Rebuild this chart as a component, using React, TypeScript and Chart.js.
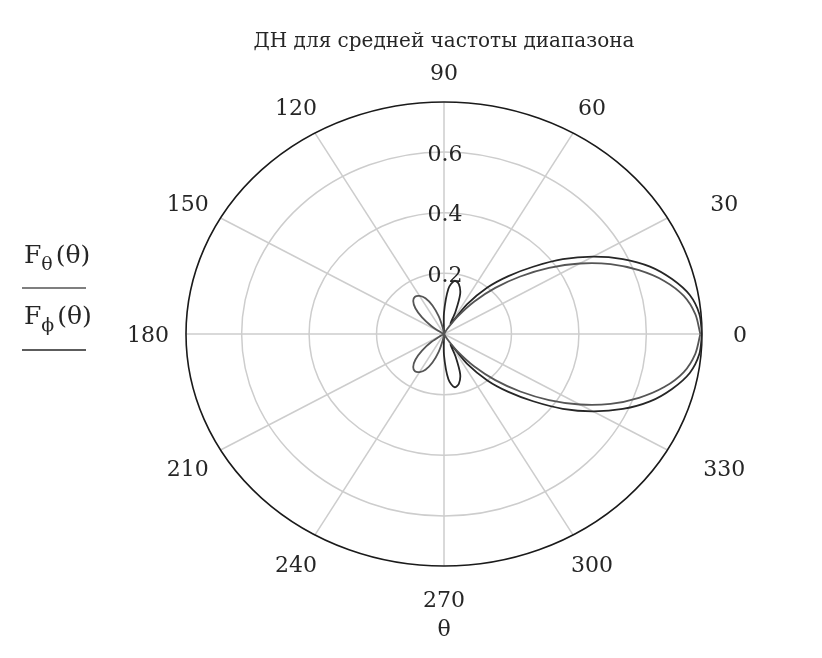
import React, { useEffect, useRef } from "react";
import { Chart, registerables } from "chart.js";

Chart.register(...registerables);

const TITLE = "ДН для средней частоты диапазона";
const ANGLE_LABELS = [0, 30, 60, 90, 120, 150, 180, 210, 240, 270, 300, 330];
const RADIAL_TICKS = [0.2, 0.4, 0.6];
const R_MAX = 0.765;
const AXIS_NAME = "θ";

const ANGLES = [
  0, 5, 10, 15, 20, 25, 30, 35, 40, 45, 50, 55, 60, 65, 70, 75, 80, 85, 90,
  95, 100, 105, 110, 115, 120, 125, 130, 135, 140, 145, 150, 155, 160, 165, 170, 175, 180,
  185, 190, 195, 200, 205, 210, 215, 220, 225, 230, 235, 240, 245, 250, 255, 260, 265,
  270, 275, 280, 285, 290, 295, 300, 305, 310, 315, 320, 325, 330, 335, 340, 345, 350, 355, 360,
];

// F_theta(theta): inner, narrower main lobe with back lobes near 125 / 235 deg
const F_THETA = [
  0.76, 0.748, 0.722, 0.676, 0.615, 0.545, 0.465, 0.38, 0.295, 0.215, 0.14, 0.07, 0.02, 0, 0, 0, 0, 0, 0,
  0, 0.02, 0.06, 0.10, 0.13, 0.145, 0.15, 0.142, 0.12, 0.085, 0.045, 0.01, 0, 0, 0, 0, 0, 0,
  0, 0, 0, 0, 0, 0.01, 0.045, 0.085, 0.12, 0.142, 0.15, 0.145, 0.13, 0.10, 0.06, 0.02, 0,
  0, 0, 0, 0, 0, 0, 0.02, 0.07, 0.14, 0.215, 0.295, 0.38, 0.465, 0.545, 0.615, 0.676, 0.722, 0.748, 0.76,
];

// F_phi(theta): outer, wider main lobe with side lobes near 80 / 280 deg
const F_PHI = [
  0.765, 0.76, 0.74, 0.70, 0.65, 0.585, 0.51, 0.43, 0.345, 0.27, 0.20, 0.12, 0.04, 0.08, 0.14, 0.17, 0.178, 0.15, 0.07,
  0, 0, 0, 0, 0, 0, 0, 0, 0, 0, 0, 0, 0, 0, 0, 0, 0, 0,
  0, 0, 0, 0, 0, 0, 0, 0, 0, 0, 0, 0, 0, 0, 0, 0, 0,
  0.07, 0.15, 0.178, 0.17, 0.14, 0.08, 0.04, 0.12, 0.20, 0.27, 0.345, 0.43, 0.51, 0.585, 0.65, 0.70, 0.74, 0.76, 0.765,
];

const COLOR_THETA = "#555555";
const COLOR_PHI = "#262626";
const GRID_COLOR = "#cdcdcd";
const TEXT_COLOR = "#262626";
const FONT = '"DejaVu Serif", "Liberation Serif", serif';

function toXY(r: number[]) {
  return r.map((v, i) => {
    const a = (ANGLES[i] * Math.PI) / 180;
    return { x: v * Math.cos(a), y: v * Math.sin(a) };
  });
}

const polarPlugin = {
  id: "polarGrid",
  beforeDatasetsDraw(chart: any) {
    const { ctx } = chart;
    const xs = chart.scales.x;
    const ys = chart.scales.y;
    const cx = xs.getPixelForValue(0);
    const cy = ys.getPixelForValue(0);
    const rx = (v: number) => xs.getPixelForValue(v) - cx;
    const ry = (v: number) => cy - ys.getPixelForValue(v);
    ctx.save();
    ctx.strokeStyle = GRID_COLOR;
    ctx.lineWidth = 1.5;
    for (const t of RADIAL_TICKS) {
      ctx.beginPath();
      ctx.ellipse(cx, cy, rx(t), ry(t), 0, 0, Math.PI * 2);
      ctx.stroke();
    }
    for (const a of ANGLE_LABELS) {
      const rad = (a * Math.PI) / 180;
      ctx.beginPath();
      ctx.moveTo(cx, cy);
      ctx.lineTo(xs.getPixelForValue(R_MAX * Math.cos(rad)), ys.getPixelForValue(R_MAX * Math.sin(rad)));
      ctx.stroke();
    }
    ctx.strokeStyle = "#1a1a1a";
    ctx.lineWidth = 1.6;
    ctx.beginPath();
    ctx.ellipse(cx, cy, rx(R_MAX), ry(R_MAX), 0, 0, Math.PI * 2);
    ctx.stroke();

    ctx.fillStyle = TEXT_COLOR;
    ctx.font = `22px ${FONT}`;
    ctx.textAlign = "center";
    ctx.textBaseline = "middle";
    for (const t of RADIAL_TICKS) {
      ctx.fillText(t.toFixed(1), cx + 1, ys.getPixelForValue(t) + 3);
    }
    ctx.restore();
  },
  afterDatasetsDraw(chart: any) {
    const { ctx } = chart;
    const xs = chart.scales.x;
    const ys = chart.scales.y;
    const cx = xs.getPixelForValue(0);
    const cy = ys.getPixelForValue(0);
    const rx = xs.getPixelForValue(R_MAX) - cx + 38;
    const ry = cy - ys.getPixelForValue(R_MAX) + 30;
    ctx.save();
    ctx.fillStyle = TEXT_COLOR;
    ctx.font = `22px ${FONT}`;
    ctx.textAlign = "center";
    ctx.textBaseline = "middle";
    for (const a of ANGLE_LABELS) {
      const rad = (a * Math.PI) / 180;
      const c = Math.cos(rad);
      const s = Math.sin(rad);
      // Mathcad pushes the right-hand diagonal labels further out
      const extra = c > 0.1 && Math.abs(s) > 0.1 && Math.abs(s) < 0.6 ? 24 : 0;
      ctx.fillText(String(a), cx + rx * c + extra, cy - ry * s + 2 + (s < -0.1 ? 3 : 0));
    }
    ctx.fillText(AXIS_NAME, cx, cy + ry + 34);

    // title
    ctx.font = `20px ${FONT}`;
    ctx.fillText(TITLE, cx, 42);

    // legend (Mathcad style trace names)
    const drawName = (sub: string, baseY: number, lineY: number, color: string) => {
      let xx = 24;
      ctx.textAlign = "left";
      ctx.textBaseline = "alphabetic";
      ctx.fillStyle = TEXT_COLOR;
      ctx.font = `25px ${FONT}`;
      ctx.fillText("F", xx, baseY);
      xx += ctx.measureText("F").width;
      ctx.font = `19px ${FONT}`;
      ctx.fillText(sub, xx, baseY + 7);
      xx += ctx.measureText(sub).width + 3;
      ctx.font = `25px ${FONT}`;
      ctx.fillText("(θ)", xx, baseY);
      ctx.strokeStyle = color;
      ctx.lineWidth = 1.6;
      ctx.beginPath();
      ctx.moveTo(22, lineY);
      ctx.lineTo(86, lineY);
      ctx.stroke();
    };
    drawName("θ", 263, 288, COLOR_THETA);
    drawName("ϕ", 324, 350, COLOR_PHI);
    ctx.restore();
  },
};

export default function App() {
  const ref = useRef<HTMLCanvasElement | null>(null);
  useEffect(() => {
    if (!ref.current) return;
    const chart = new Chart(ref.current, {
      type: "scatter",
      data: {
        datasets: [
          {
            label: "Fθ(θ)",
            data: toXY(F_THETA),
            showLine: true,
            borderColor: COLOR_THETA,
            borderWidth: 1.8,
            pointRadius: 0,
            tension: 0.3,
          },
          {
            label: "Fϕ(θ)",
            data: toXY(F_PHI),
            showLine: true,
            borderColor: COLOR_PHI,
            borderWidth: 1.8,
            pointRadius: 0,
            tension: 0.3,
          },
        ],
      },
      options: {
        animation: false,
        responsive: false,
        maintainAspectRatio: false,
        devicePixelRatio: 1,
        layout: { padding: { left: 186, right: 120, top: 102, bottom: 92 } },
        scales: {
          x: { type: "linear", min: -R_MAX, max: R_MAX, display: false },
          y: { type: "linear", min: -R_MAX, max: R_MAX, display: false },
        },
        plugins: {
          legend: { display: false },
          title: { display: false },
          tooltip: { enabled: false },
        },
      },
      plugins: [polarPlugin],
    });
    return () => chart.destroy();
  }, []);
  return (
    <div style={{ position: "absolute", left: 0, top: 0, width: 822, height: 658, background: "#fff" }}>
      <canvas ref={ref} width={822} height={658} />
    </div>
  );
}
